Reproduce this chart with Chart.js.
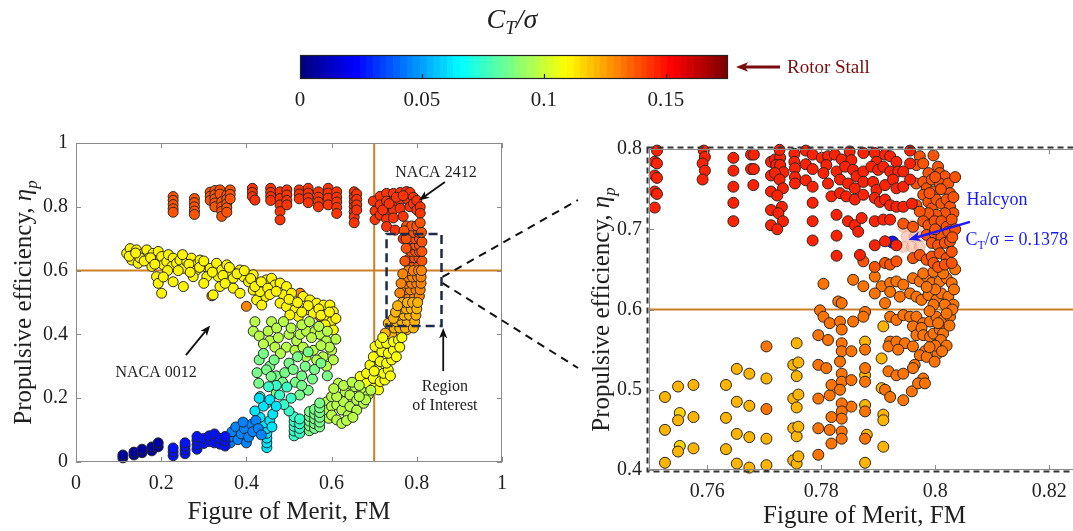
<!DOCTYPE html>
<html>
<head>
<meta charset="utf-8">
<script src="https://cdn.jsdelivr.net/npm/chart.js@4.4.1/dist/chart.umd.min.js"></script>
<style>
  html, body { margin: 0; padding: 0; background: #fff; overflow: hidden; width: 1073px; height: 531px; }
  canvas { position: absolute; }
  #cbar  { left: 250px; top: 0; }
  #left  { left: 0; top: 120px; }
  #right { left: 560px; top: 120px; }
</style>
</head>
<body>
<canvas id="cbar" width="650" height="130"></canvas>
<canvas id="left" width="600" height="411"></canvas>
<canvas id="right" width="530" height="411"></canvas>
<script>
// ---------- colour scale (C_T / sigma) ----------
const CMAX = 0.1755;
const cbarTicks = [0, 0.05, 0.1, 0.15];
const cbarLabels = ['0', '0.05', '0.1', '0.15'];

// ---------- left panel: full sweep (FM, eta_p), grouped by C_T/sigma ----------
const leftXTicks = [0, 0.2, 0.4, 0.6, 0.8, 1];
const leftXLabels = ['0', '0.2', '0.4', '0.6', '0.8', '1'];
const leftYTicks = [0, 0.2, 0.4, 0.6, 0.8, 1];
const leftYLabels = ['0', '0.2', '0.4', '0.6', '0.8', '1'];

const leftNavy = [[0.110,0.013],[0.110,0.022],[0.136,0.022],[0.136,0.031],[0.155,0.029],[0.155,0.040],[0.178,0.035],[0.178,0.047],[0.193,0.048],[0.193,0.060]];
const leftBlue = [[0.228,0.020],[0.228,0.032],[0.228,0.044],[0.256,0.026],[0.256,0.038],[0.256,0.050],[0.256,0.060],[0.284,0.040],[0.284,0.054],[0.284,0.068],[0.284,0.080],[0.300,0.058],[0.300,0.074],[0.313,0.064],[0.313,0.082],[0.325,0.060],[0.325,0.088],[0.338,0.056],[0.338,0.074],[0.350,0.050],[0.350,0.066],[0.350,0.080]];
const leftSky = [[0.362,0.060],[0.362,0.078],[0.366,0.095],[0.375,0.110],[0.380,0.070],[0.388,0.088],[0.395,0.105],[0.400,0.060],[0.405,0.078],[0.412,0.118],[0.415,0.095],[0.422,0.130],[0.428,0.105],[0.392,0.125],[0.435,0.085]];
const leftCyan = [[0.448,0.045],[0.448,0.060],[0.448,0.075],[0.448,0.090],[0.448,0.105],[0.440,0.122],[0.455,0.130],[0.432,0.140],[0.462,0.150],[0.420,0.160],[0.440,0.175],[0.455,0.195],[0.470,0.175],[0.430,0.200],[0.460,0.110]];
const leftTeal = [[0.512,0.082],[0.512,0.097],[0.512,0.112],[0.512,0.127],[0.512,0.142],[0.525,0.090],[0.525,0.105],[0.525,0.120],[0.525,0.135],[0.500,0.160],[0.488,0.180],[0.478,0.210],[0.505,0.200],[0.470,0.240],[0.495,0.235],[0.447,0.184],[0.432,0.205],[0.452,0.236]];
const leftGreen = [[0.548,0.098],[0.548,0.113],[0.548,0.128],[0.548,0.143],[0.548,0.158],[0.560,0.105],[0.560,0.120],[0.560,0.135],[0.560,0.150],[0.560,0.165],[0.572,0.110],[0.572,0.125],[0.572,0.140],[0.572,0.155],[0.572,0.170],[0.572,0.185],[0.470,0.270],[0.490,0.280],[0.515,0.250],[0.530,0.270],[0.545,0.225],[0.455,0.300],[0.500,0.310],[0.520,0.330],[0.538,0.300],[0.545,0.345],[0.429,0.247],[0.447,0.289],[0.458,0.268],[0.430,0.320],[0.525,0.210],[0.555,0.260],
  [0.440,0.340],[0.425,0.280],[0.465,0.320],[0.510,0.290],[0.530,0.240],[0.560,0.290],[0.575,0.310],[0.590,0.270],[0.485,0.250],[0.470,0.215]];
const leftLime = [[0.420,0.440],[0.416,0.410],[0.451,0.410],[0.459,0.440],[0.471,0.420],[0.487,0.440],[0.455,0.380],[0.467,0.360],[0.494,0.360],[0.514,0.350],[0.518,0.380],[0.526,0.400],[0.541,0.410],[0.561,0.410],[0.573,0.400],[0.588,0.380],[0.553,0.390],[0.533,0.360],[0.557,0.350],[0.580,0.330],[0.600,0.350],[0.604,0.320],[0.588,0.300],[0.565,0.320],
  [0.430,0.395],[0.440,0.370],[0.475,0.390],[0.500,0.400],[0.505,0.420],[0.530,0.430],[0.548,0.440],[0.570,0.425],[0.590,0.410],[0.610,0.385],[0.595,0.360],[0.575,0.365],[0.540,0.330],[0.480,0.340],
  [0.589,0.189],[0.589,0.163],[0.593,0.137],[0.600,0.205],[0.600,0.174],[0.600,0.147],[0.612,0.179],[0.612,0.132],[0.616,0.247],[0.624,0.163],[0.624,0.121],[0.628,0.189],[0.632,0.220],[0.639,0.147],[0.643,0.210],[0.643,0.174],[0.659,0.163],[0.659,0.194],[0.655,0.236],[0.675,0.184],[0.671,0.220],[0.686,0.210],[0.612,0.205],[0.628,0.240],
  [0.648,0.250],[0.665,0.240],[0.680,0.195],[0.692,0.225],[0.605,0.230],[0.635,0.130],[0.650,0.140],[0.665,0.205]];
const leftYellow = [[0.667,0.268],[0.682,0.247],[0.698,0.231],[0.710,0.226],[0.682,0.278],[0.698,0.262],[0.714,0.252],[0.725,0.257],[0.690,0.304],[0.706,0.289],[0.722,0.278],[0.733,0.289],[0.698,0.330],[0.714,0.315],[0.729,0.310],[0.741,0.320],[0.702,0.362],[0.718,0.346],[0.733,0.341],[0.745,0.351],[0.714,0.372],[0.729,0.372],[0.745,0.377],[0.757,0.382],
  [0.738,0.270],[0.752,0.330],[0.760,0.360],[0.700,0.285],[0.720,0.390],[0.765,0.390]];
const leftGold = [[0.119,0.654],[0.127,0.669],[0.135,0.650],[0.142,0.665],[0.131,0.633],[0.146,0.623],[0.158,0.654],[0.166,0.665],[0.170,0.639],[0.181,0.654],[0.189,0.628],[0.178,0.613],[0.193,0.660],[0.201,0.644],[0.205,0.618],[0.213,0.628],[0.217,0.650],[0.228,0.639],[0.225,0.613],[0.236,0.623],[0.244,0.633],[0.252,0.607],[0.260,0.628],[0.271,0.639],[0.279,0.618],[0.283,0.602],[0.291,0.633],[0.303,0.613],[0.307,0.581],[0.315,0.607],[0.330,0.623],[0.334,0.581],[0.342,0.602],[0.354,0.618],[0.362,0.597],[0.369,0.576],[0.385,0.602],[0.393,0.581],[0.405,0.565],[0.416,0.587],[0.428,0.560],[0.440,0.550],[0.447,0.571],[0.459,0.576],[0.467,0.555],[0.189,0.581],[0.193,0.560],[0.201,0.529],[0.228,0.565],[0.252,0.550],[0.275,0.581],[0.322,0.524],[0.338,0.550],[0.369,0.545],[0.385,0.529],[0.416,0.539],[0.444,0.518],[0.424,0.508],[0.436,0.492],[0.432,0.534],
  [0.125,0.645],[0.150,0.640],[0.160,0.630],[0.175,0.640],[0.140,0.655],[0.185,0.620],
  [0.250,0.650],[0.265,0.620],[0.290,0.610],[0.300,0.630],[0.320,0.595],[0.345,0.585],[0.360,0.610],[0.378,0.590],[0.395,0.600],[0.410,0.575],[0.420,0.550],[0.435,0.565],[0.450,0.545],[0.455,0.525],[0.300,0.560],[0.268,0.595],[0.240,0.600],[0.215,0.600],[0.205,0.580],[0.350,0.560],
  [0.479,0.561],[0.494,0.550],[0.487,0.524],[0.506,0.529],[0.533,0.519],[0.549,0.508],[0.565,0.498],[0.581,0.492],[0.596,0.492],[0.479,0.498],[0.494,0.487],[0.514,0.477],[0.541,0.477],[0.557,0.466],[0.588,0.456],[0.604,0.471],[0.600,0.440],[0.585,0.430],[0.604,0.414],[0.522,0.456],[0.502,0.461],
  [0.470,0.535],[0.500,0.510],[0.520,0.500],[0.545,0.490],[0.570,0.480],[0.575,0.460],[0.530,0.470],[0.610,0.450],[0.595,0.470]];
const leftAmber = [[0.733,0.435],[0.749,0.430],[0.764,0.424],[0.780,0.435],[0.776,0.414],[0.761,0.404],[0.741,0.398],[0.726,0.404],[0.747,0.420],[0.760,0.420],[0.773,0.420],[0.752,0.440],[0.765,0.440],[0.778,0.440],[0.758,0.460],[0.770,0.460],[0.783,0.460],[0.762,0.480],[0.775,0.480],[0.787,0.480],[0.766,0.500],[0.778,0.500],[0.790,0.500],
  [0.792,0.420],[0.795,0.440],[0.798,0.460],[0.800,0.480],[0.802,0.500],[0.745,0.450],[0.750,0.470],[0.755,0.490]];
const leftOrange = [[0.770,0.520],[0.782,0.520],[0.795,0.520],[0.772,0.540],[0.785,0.540],[0.798,0.540],[0.775,0.560],[0.788,0.560],[0.800,0.560],[0.777,0.580],[0.790,0.580],[0.802,0.580],[0.780,0.600],[0.792,0.600],[0.804,0.600],[0.400,0.488],[0.526,0.529],[0.573,0.456],[0.319,0.521],
  [0.806,0.520],[0.808,0.540],[0.810,0.560],[0.810,0.580],[0.811,0.600],[0.760,0.530],[0.763,0.560],[0.767,0.590]];
const leftVermilion = [[0.782,0.620],[0.794,0.620],[0.805,0.620],[0.784,0.640],[0.795,0.640],[0.805,0.640],[0.786,0.660],[0.797,0.660],[0.806,0.660],[0.786,0.680],[0.797,0.680],[0.806,0.680],[0.785,0.700],[0.796,0.700],[0.806,0.700],[0.780,0.720],[0.792,0.720],[0.804,0.720],[0.776,0.740],[0.788,0.740],[0.800,0.740],
  [0.812,0.630],[0.812,0.660],[0.812,0.690],[0.811,0.720],[0.772,0.630],[0.775,0.670],[0.775,0.700],[0.770,0.725],[0.808,0.750]];
const leftStallCols = [[0.228,0.832],[0.228,0.820],[0.228,0.807],[0.228,0.794],[0.228,0.783],[0.278,0.826],[0.278,0.813],[0.278,0.800],[0.278,0.787],[0.278,0.776],[0.315,0.846],[0.315,0.833],[0.315,0.820],[0.326,0.851],[0.326,0.838],[0.326,0.825],[0.326,0.812],[0.326,0.800],[0.338,0.853],[0.338,0.840],[0.342,0.816],[0.342,0.800],[0.342,0.786],[0.342,0.770],[0.354,0.837],[0.354,0.824],[0.354,0.810],[0.354,0.797],[0.354,0.783],[0.362,0.853],[0.362,0.839],[0.362,0.825]];
const leftStall = [[0.414,0.858],[0.414,0.845],[0.414,0.832],[0.420,0.821],[0.457,0.858],[0.457,0.845],[0.457,0.832],[0.457,0.820],[0.479,0.847],[0.479,0.826],[0.479,0.806],[0.479,0.785],[0.479,0.759],[0.495,0.853],[0.495,0.837],[0.495,0.820],[0.495,0.806],[0.524,0.853],[0.524,0.840],[0.524,0.825],[0.545,0.858],[0.545,0.843],[0.545,0.828],[0.545,0.813],[0.569,0.847],[0.569,0.830],[0.569,0.815],[0.569,0.800],[0.592,0.858],[0.592,0.843],[0.592,0.827],[0.592,0.806],[0.612,0.847],[0.612,0.830],[0.612,0.815],[0.612,0.798],[0.612,0.779],[0.653,0.847],[0.653,0.831],[0.653,0.815],[0.653,0.800],[0.653,0.784],[0.653,0.768],[0.653,0.750],[0.659,0.840],[0.659,0.823],[0.659,0.806],[0.659,0.790],
  [0.698,0.818],[0.702,0.787],[0.702,0.760],[0.714,0.833],[0.714,0.806],[0.714,0.774],[0.729,0.842],[0.729,0.818],[0.729,0.790],[0.729,0.762],[0.729,0.738],[0.745,0.842],[0.745,0.818],[0.745,0.790],[0.745,0.765],[0.749,0.727],[0.761,0.845],[0.761,0.820],[0.761,0.795],[0.768,0.770],[0.768,0.700],[0.776,0.848],[0.776,0.825],[0.784,0.800],[0.784,0.845],[0.792,0.830],[0.792,0.810],[0.800,0.820],[0.800,0.790],[0.808,0.800],[0.808,0.780],[0.720,0.790],[0.735,0.810],[0.752,0.830],[0.768,0.835]];

const leftSeries = [
  [leftNavy, 0.007], [leftBlue, 0.025], [leftSky, 0.045], [leftCyan, 0.061],
  [leftTeal, 0.075], [leftGreen, 0.086], [leftLime, 0.096], [leftGold, 0.110],
  [leftYellow, 0.107], [leftAmber, 0.122], [leftOrange, 0.131], [leftVermilion, 0.138],
  [leftStallCols, 0.139], [leftStall, 0.145]
];

// ---------- right panel: zoom on the high-efficiency corner ----------
const rightXTicks = [0.76, 0.78, 0.8, 0.82];
const rightXLabels = ['0.76', '0.78', '0.8', '0.82'];
const rightYTicks = [0.4, 0.5, 0.6, 0.7, 0.8];
const rightYLabels = ['0.4', '0.5', '0.6', '0.7', '0.8'];

const rightRed = [[0.7512,0.798],[0.7508,0.784],[0.7512,0.782],[0.7508,0.767],[0.7512,0.764],[0.7508,0.747],[0.7512,0.744],[0.7508,0.727],
  [0.7594,0.798],[0.7596,0.790],[0.7592,0.782],[0.7596,0.773],[0.7592,0.762],
  [0.7646,0.789],[0.7646,0.773],[0.7646,0.753],[0.7646,0.733],[0.7646,0.710],
  [0.7677,0.793],[0.7682,0.793],[0.7677,0.775],[0.7682,0.775],[0.7681,0.755],
  [0.7712,0.784],[0.7719,0.787],[0.7728,0.789],[0.7727,0.799],[0.7721,0.780],[0.7728,0.780],[0.7734,0.771],[0.7712,0.767],[0.7719,0.770],[0.7727,0.762],[0.7733,0.751],[0.7712,0.747],[0.7723,0.742],[0.7731,0.728],[0.7712,0.724],[0.7725,0.720],[0.7733,0.710],[0.7712,0.705],[0.7723,0.700],
  [0.7753,0.794],[0.7753,0.784],[0.7754,0.776],[0.7754,0.765],[0.7754,0.757],[0.7773,0.798],[0.7773,0.781],[0.7773,0.761],[0.7785,0.686],[0.7785,0.710],[0.7785,0.733],[0.7785,0.753],[0.7785,0.775],[0.7785,0.793],
  [0.7801,0.789],[0.7812,0.791],[0.7824,0.793],[0.7836,0.787],[0.7850,0.797],[0.7853,0.786],[0.7874,0.795],[0.7894,0.795],[0.7897,0.784],[0.7912,0.793],[0.7921,0.791],[0.7932,0.784],[0.7956,0.798],
  [0.7809,0.780],[0.7804,0.770],[0.7827,0.772],[0.7842,0.778],[0.7856,0.774],[0.7862,0.766],[0.7874,0.772],[0.7888,0.778],[0.7900,0.774],[0.7909,0.778],[0.7921,0.772],[0.7935,0.772],[0.7944,0.772],[0.7956,0.782],
  [0.7812,0.757],[0.7833,0.762],[0.7847,0.757],[0.7859,0.751],[0.7874,0.759],[0.7891,0.759],[0.7897,0.749],[0.7912,0.755],[0.7926,0.762],[0.7932,0.751],[0.7944,0.753],[0.7956,0.762],
  [0.7818,0.741],[0.7833,0.745],[0.7844,0.741],[0.7859,0.737],[0.7874,0.743],[0.7894,0.739],[0.7903,0.734],[0.7912,0.737],[0.7921,0.730],[0.7932,0.728],[0.7944,0.728],[0.7959,0.732],
  [0.7827,0.718],[0.7847,0.710],[0.7859,0.705],[0.7871,0.714],[0.7894,0.710],[0.7909,0.712],[0.7921,0.712],
  [0.7827,0.692],[0.7865,0.697],[0.7894,0.680],[0.7912,0.685],[0.7932,0.680],[0.7827,0.667],[0.7868,0.668]];
const rightVermilion = [[0.7973,0.791],[0.7997,0.792],
  [0.7967,0.780],[0.7979,0.782],[0.7988,0.770],[0.8005,0.778],[0.8008,0.770],[0.8017,0.766],
  [0.7967,0.757],[0.7979,0.759],[0.7985,0.751],[0.7994,0.762],[0.7997,0.747],[0.8008,0.757],[0.8017,0.751],[0.8023,0.757],[0.8026,0.745],
  [0.7967,0.730],[0.7979,0.743],[0.7988,0.734],[0.7994,0.726],[0.8002,0.737],[0.8011,0.732],[0.8020,0.737],[0.8026,0.728],[0.8032,0.720],[0.8017,0.720],[0.8002,0.718],[0.7988,0.720],[0.7973,0.722],
  [0.7944,0.707],[0.7961,0.703],[0.7979,0.710],[0.7988,0.705],[0.7999,0.710],[0.8011,0.710],[0.8020,0.703],[0.8029,0.712],
  [0.7985,0.693],[0.7999,0.695],[0.8011,0.691],[0.8023,0.697],[0.7994,0.683],[0.8005,0.680],[0.8017,0.683],[0.8026,0.685],
  [0.7874,0.660],[0.7894,0.653],[0.7912,0.658],[0.7921,0.656],[0.7932,0.660],[0.7961,0.664],[0.7973,0.668],[0.7985,0.662],[0.7994,0.666],[0.8008,0.670],[0.8020,0.664],[0.8029,0.672],[0.7997,0.658],[0.8005,0.653],[0.8017,0.656],[0.8029,0.658],
  [0.8032,0.740],[0.8035,0.700],[0.8030,0.690],[0.8000,0.700],[0.7990,0.745],[0.8010,0.750],[0.8035,0.765],[0.8000,0.765]];
const rightOrange = [[0.7804,0.632],[0.7856,0.637],[0.7874,0.629],[0.7894,0.641],[0.7906,0.629],[0.7921,0.633],[0.7932,0.635],[0.7944,0.631],[0.7961,0.639],[0.7973,0.635],[0.7985,0.641],[0.7994,0.633],[0.8008,0.635],[0.8020,0.639],[0.8029,0.633],[0.7979,0.645],[0.7997,0.647],[0.8014,0.645],
  [0.7798,0.599],[0.7830,0.610],[0.7836,0.608],[0.7877,0.597],[0.7894,0.620],[0.7912,0.608],[0.7921,0.622],[0.7938,0.616],[0.7956,0.620],[0.7967,0.616],[0.7976,0.612],[0.7988,0.618],[0.8002,0.612],[0.8011,0.620],[0.8023,0.616],[0.8032,0.606],[0.8017,0.606],[0.7997,0.606],
  [0.7804,0.591],[0.7815,0.583],[0.7833,0.585],[0.7856,0.585],[0.7874,0.591],[0.7921,0.591],[0.7932,0.587],[0.7944,0.593],[0.7956,0.591],[0.7967,0.591],[0.7979,0.583],[0.7991,0.585],[0.8002,0.591],[0.8014,0.587],[0.8026,0.591],[0.7961,0.579],
  [0.7795,0.568],[0.7812,0.562],[0.7795,0.531],[0.7809,0.527],[0.7795,0.489],[0.7815,0.493],[0.7795,0.452],[0.7815,0.450],[0.7795,0.419],[0.7818,0.433],[0.7836,0.575],[0.7836,0.558],[0.7836,0.548],[0.7853,0.548],[0.7833,0.535],[0.7836,0.520],[0.7836,0.510],[0.7818,0.506],[0.7833,0.500],[0.7853,0.512],[0.7853,0.479],[0.7836,0.483],[0.7836,0.473],[0.7836,0.464],[0.7818,0.466],[0.7836,0.448],[0.7836,0.439],
  [0.7877,0.550],[0.7877,0.527],[0.7877,0.510],[0.7877,0.473],[0.7877,0.439],[0.7912,0.500],[0.7921,0.560],[0.7918,0.554],[0.7932,0.560],[0.7947,0.558],[0.7935,0.550],[0.7918,0.523],[0.7932,0.518],[0.7944,0.520],[0.7921,0.491],[0.7944,0.487],[0.7959,0.498],[0.7961,0.554],[0.7967,0.568],[0.7976,0.577],[0.7979,0.568],[0.7982,0.548],[0.7973,0.543],[0.7985,0.541],[0.7964,0.531],[0.7961,0.527],[0.7979,0.514],[0.7970,0.508],[0.7982,0.508],[0.7991,0.566],[0.7997,0.570],[0.8008,0.575],[0.8005,0.583],[0.8014,0.570],[0.8004,0.545],[0.7999,0.535],
  [0.7704,0.554],[0.7704,0.476],
  [0.8035,0.650],[0.8033,0.625],[0.8030,0.600],[0.8000,0.625],[0.7985,0.628],[0.7990,0.598],[0.8020,0.595],[0.8025,0.580],[0.8010,0.562],[0.8020,0.555],[0.8000,0.555],[0.7990,0.553],[0.8012,0.548]];
const rightAmber = [[0.7877,0.560],[0.7877,0.518],[0.7877,0.481],[0.7880,0.444],[0.7877,0.409],[0.7909,0.579],[0.7906,0.539],[0.7906,0.502],[0.7909,0.469],[0.7909,0.462],[0.7909,0.429],
  [0.7526,0.491],[0.7549,0.504],[0.7576,0.506],[0.7526,0.450],[0.7549,0.462],[0.7576,0.466],[0.7526,0.409],[0.7549,0.423],[0.7576,0.427],[0.7633,0.506],[0.7633,0.465],[0.7633,0.426],[0.7652,0.526],[0.7652,0.485],[0.7652,0.445],[0.7652,0.408],[0.7674,0.520],[0.7674,0.480],[0.7674,0.441],[0.7674,0.403],[0.7704,0.514],[0.7704,0.439],[0.7704,0.406],[0.7751,0.531],[0.7751,0.489],[0.7751,0.452],[0.7751,0.412],[0.7757,0.558],[0.7757,0.517],[0.7757,0.478],[0.7757,0.442],[0.7757,0.408],[0.7760,0.534],[0.7760,0.494],[0.7760,0.454],[0.7760,0.417]];
const rightYellow = [[0.7552,0.471],[0.7552,0.430]];
// neighbouring design points around Halcyon, drawn faded
const halcyonNeighbours = [[0.7944,0.703],[0.7959,0.705],[0.7973,0.703],[0.7950,0.691],[0.7964,0.691],[0.7976,0.691],[0.7944,0.678],[0.7959,0.678],[0.7973,0.678]];
const halcyonPoint = [[0.7925,0.684]];
const halcyonCt = 0.1378;

const rightSeries = [
  [rightRed, 0.146], [rightVermilion, 0.139], [rightOrange, 0.132],
  [rightAmber, 0.122], [rightYellow, 0.116]
];

// ---------- helpers ----------
const SERIF = '"Liberation Serif", "Times New Roman", serif';
const REF_LINE = 'rgb(204,128,38)';

function jet(c) {
  let t = Math.min(Math.max(c / CMAX, 0), 1);
  t = Math.min(63, Math.floor(t * 64)) / 63;
  const f = v => Math.round(255 * Math.min(Math.max(v, 0), 1));
  return `rgb(${f(1.5 - Math.abs(4 * t - 3))},${f(1.5 - Math.abs(4 * t - 2))},${f(1.5 - Math.abs(4 * t - 1))})`;
}

function series(points, color, radius, border) {
  return {
    data: points.map(p => ({ x: p[0], y: p[1] })),
    backgroundColor: color,
    borderColor: border === undefined ? '#262626' : border,
    borderWidth: border === null ? 0 : 1,
    pointRadius: radius, pointHoverRadius: radius,
    clip: false
  };
}

function axis(min, max, ticks, labels, size, pad, fit, isX, show) {
  return {
    type: 'linear', min, max, display: show !== false,
    afterBuildTicks: s => { s.ticks = ticks.map(v => ({ value: v })); },
    afterFit: s => { if (isX) s.height = fit; else s.width = fit; },
    grid: { display: false, drawTicks: false },
    border: { display: false },
    ticks: {
      font: { family: SERIF, size }, color: '#1e1e1e', padding: pad,
      maxRotation: 0, autoSkip: false,
      callback: (v, i) => labels[i]
    }
  };
}

// text made of runs with their own font and baseline shift
function rich(ctx, parts, x, y, opt) {
  ctx.save();
  ctx.translate(x, y);
  if (opt.rotate) ctx.rotate(-Math.PI / 2);
  ctx.fillStyle = opt.color || '#1e1e1e';
  ctx.textBaseline = 'alphabetic';
  ctx.textAlign = 'left';
  let w = 0;
  for (const p of parts) { ctx.font = p.f; w += ctx.measureText(p.t).width; }
  let cx = opt.align === 'left' ? 0 : -w / 2;
  for (const p of parts) {
    ctx.font = p.f;
    ctx.fillText(p.t, cx, (opt.base || 0) + (p.dy || 0));
    cx += ctx.measureText(p.t).width;
  }
  ctx.restore();
}

function arrow(ctx, x1, y1, x2, y2, color, width, head) {
  ctx.save();
  ctx.strokeStyle = color; ctx.fillStyle = color; ctx.lineWidth = width;
  ctx.setLineDash([]);
  const a = Math.atan2(y2 - y1, x2 - x1);
  const bx = x2 - head * 0.7 * Math.cos(a), by = y2 - head * 0.7 * Math.sin(a);
  ctx.beginPath(); ctx.moveTo(x1, y1); ctx.lineTo(bx, by); ctx.stroke();
  ctx.beginPath();
  ctx.moveTo(x2, y2);
  ctx.lineTo(x2 - head * Math.cos(a - 0.38), y2 - head * Math.sin(a - 0.38));
  ctx.lineTo(bx, by);
  ctx.lineTo(x2 - head * Math.cos(a + 0.38), y2 - head * Math.sin(a + 0.38));
  ctx.closePath(); ctx.fill();
  ctx.restore();
}

// axes box with inward tick marks on all four sides
function boxAndTicks(chart, xt, yt) {
  const { ctx, chartArea: a, scales: { x, y } } = chart;
  ctx.save();
  ctx.strokeStyle = '#8a8a8a'; ctx.lineWidth = 1; ctx.setLineDash([]);
  ctx.strokeRect(a.left + 0.5, a.top + 0.5, a.width - 1, a.height - 1);
  ctx.beginPath();
  for (const v of xt) {
    const px = Math.round(x.getPixelForValue(v)) + 0.5;
    ctx.moveTo(px, a.bottom); ctx.lineTo(px, a.bottom - 5);
    ctx.moveTo(px, a.top); ctx.lineTo(px, a.top + 5);
  }
  for (const v of yt) {
    const py = Math.round(y.getPixelForValue(v)) + 0.5;
    ctx.moveTo(a.left, py); ctx.lineTo(a.left + 5, py);
    ctx.moveTo(a.right, py); ctx.lineTo(a.right - 5, py);
  }
  ctx.stroke();
  ctx.restore();
}

const etaTitle = [
  { t: 'Propulsive efficiency, ', f: `25px ${SERIF}` },
  { t: 'η', f: `italic 25px ${SERIF}` },
  { t: 'p', f: `italic 17px ${SERIF}`, dy: 6 }
];
const fmTitle = [{ t: 'Figure of Merit, FM', f: `25px ${SERIF}` }];

const common = {
  responsive: false, animation: false, events: [], devicePixelRatio: 1,
  plugins: { legend: { display: false }, tooltip: { enabled: false } }
};

// ---------- colour bar ----------
new Chart(document.getElementById('cbar'), {
  type: 'scatter',
  data: { datasets: [] },
  options: {
    ...common,
    layout: { padding: { top: 55, right: 172, bottom: 0, left: 50 } },
    scales: {
      x: axis(0, CMAX, cbarTicks, cbarLabels, 21, 9, 51, true),
      y: axis(0, 1, [], [], 10, 0, 0, false, false)
    }
  },
  plugins: [{
    id: 'colourbar',
    afterDraw(chart) {
      const { ctx, chartArea: a, scales: { x } } = chart;
      const n = 64;
      for (let i = 0; i < n; i++) {
        const x0 = x.getPixelForValue(i * CMAX / n), x1 = x.getPixelForValue((i + 1) * CMAX / n);
        ctx.fillStyle = jet((i + 0.5) * CMAX / n);
        ctx.fillRect(Math.floor(x0), a.top, Math.ceil(x1) - Math.floor(x0), a.height);
      }
      ctx.save();
      ctx.strokeStyle = '#222'; ctx.lineWidth = 1.2;
      ctx.strokeRect(a.left + 0.5, a.top + 0.5, a.width - 1, a.height - 1);
      ctx.beginPath();
      for (const v of cbarTicks.slice(1)) {
        const px = Math.round(x.getPixelForValue(v)) + 0.5;
        ctx.moveTo(px, a.bottom); ctx.lineTo(px, a.bottom - 5);
      }
      ctx.stroke();
      ctx.restore();
      rich(ctx, [
        { t: 'C', f: `italic 28px ${SERIF}` },
        { t: 'T', f: `italic 19px ${SERIF}`, dy: 6 },
        { t: '/σ', f: `italic 28px ${SERIF}` }
      ], (a.left + a.right) / 2 - 2, 28, { align: 'center' });
      const my = (a.top + a.bottom) / 2;
      arrow(ctx, a.right + 52, my, a.right + 8, my, '#7a0c0c', 3, 13);
      rich(ctx, [{ t: 'Rotor Stall', f: `19px ${SERIF}` }], a.right + 59, my + 6, { align: 'left', color: '#7a0c0c' });
    }
  }]
});

// ---------- left panel ----------
new Chart(document.getElementById('left'), {
  type: 'scatter',
  data: { datasets: leftSeries.map(([pts, c]) => series(pts, jet(c), 5)) },
  options: {
    ...common,
    layout: { padding: { top: 23, right: 98, bottom: 0, left: 0 } },
    scales: {
      x: axis(0, 1, leftXTicks, leftXLabels, 20, 10, 69, true),
      y: axis(0, 1, leftYTicks, leftYLabels, 20, 8, 76, false)
    }
  },
  plugins: [{
    id: 'leftDecor',
    beforeDatasetsDraw(chart) {
      const { ctx, chartArea: a, scales: { x, y } } = chart;
      ctx.save();
      ctx.strokeStyle = REF_LINE; ctx.lineWidth = 2;
      ctx.beginPath();
      const px = x.getPixelForValue(0.7), py = y.getPixelForValue(0.6);
      ctx.moveTo(px, a.top); ctx.lineTo(px, a.bottom);
      ctx.moveTo(a.left, py); ctx.lineTo(a.right, py);
      ctx.stroke();
      ctx.restore();
    },
    afterDatasetsDraw(chart) {
      const { ctx, chartArea: a, scales: { x, y } } = chart;
      boxAndTicks(chart, leftXTicks, leftYTicks);
      // region of interest
      const rx0 = x.getPixelForValue(0.729), rx1 = x.getPixelForValue(0.858);
      const ry0 = y.getPixelForValue(0.715), ry1 = y.getPixelForValue(0.426);
      ctx.save();
      ctx.strokeStyle = '#1d2b48'; ctx.lineWidth = 2.5; ctx.setLineDash([9, 5]);
      ctx.strokeRect(rx0, ry0, rx1 - rx0, ry1 - ry0);
      // leader lines towards the zoomed panel
      ctx.strokeStyle = '#111'; ctx.lineWidth = 2; ctx.setLineDash([8, 6]);
      ctx.beginPath();
      ctx.moveTo(rx1 + 1, y.getPixelForValue(0.58)); ctx.lineTo(578, 80);
      ctx.moveTo(rx1 + 1, y.getPixelForValue(0.561)); ctx.lineTo(578, 248);
      ctx.stroke();
      ctx.restore();
      // labels
      const lab = `16px ${SERIF}`;
      rich(ctx, [{ t: 'NACA 2412', f: lab }], x.getPixelForValue(0.845), y.getPixelForValue(0.913) + 6, { align: 'center' });
      arrow(ctx, x.getPixelForValue(0.866), y.getPixelForValue(0.878), x.getPixelForValue(0.805), y.getPixelForValue(0.82), '#111', 1.8, 11);
      rich(ctx, [{ t: 'NACA 0012', f: lab }], x.getPixelForValue(0.188), y.getPixelForValue(0.285) + 6, { align: 'center' });
      arrow(ctx, x.getPixelForValue(0.258), y.getPixelForValue(0.335), x.getPixelForValue(0.315), y.getPixelForValue(0.428), '#111', 1.8, 11);
      rich(ctx, [{ t: 'Region', f: lab }], x.getPixelForValue(0.866), y.getPixelForValue(0.241) + 6, { align: 'center' });
      rich(ctx, [{ t: 'of Interest', f: lab }], x.getPixelForValue(0.866), y.getPixelForValue(0.182) + 6, { align: 'center' });
      arrow(ctx, x.getPixelForValue(0.862), y.getPixelForValue(0.285), x.getPixelForValue(0.862), y.getPixelForValue(0.42), '#111', 1.8, 11);
      // axis titles
      rich(ctx, fmTitle, (a.left + a.right) / 2, a.bottom + 49, { align: 'center', base: 8 });
      rich(ctx, etaTitle, 23, (a.top + a.bottom) / 2, { align: 'center', rotate: true, base: 8 });
    }
  }]
});

// ---------- right panel ----------
const rightSets = rightSeries.map(([pts, c]) => series(pts, jet(c), 5.5));
rightSets.push(series(halcyonNeighbours, 'rgba(247,170,140,0.55)', 5.5, 'rgba(200,120,90,0.35)'));
rightSets.push(series(halcyonPoint, 'rgb(20,20,255)', 6, '#0a0a60'));

new Chart(document.getElementById('right'), {
  type: 'scatter',
  data: { datasets: rightSets },
  options: {
    ...common,
    layout: { padding: { top: 29, right: 10, bottom: 0, left: 0 } },
    scales: {
      x: axis(0.7498, 0.8254, rightXTicks, rightXLabels, 20, 10, 61, true),
      y: axis(0.4, 0.8, rightYTicks, rightYLabels, 20, 7, 89, false)
    }
  },
  plugins: [{
    id: 'rightDecor',
    beforeDatasetsDraw(chart) {
      const { ctx, chartArea: a, scales: { y } } = chart;
      ctx.save();
      ctx.strokeStyle = REF_LINE; ctx.lineWidth = 2;
      const py = y.getPixelForValue(0.6);
      ctx.beginPath(); ctx.moveTo(a.left, py); ctx.lineTo(a.right, py); ctx.stroke();
      ctx.restore();
    },
    afterDatasetsDraw(chart) {
      const { ctx, chartArea: a, scales: { x, y } } = chart;
      boxAndTicks(chart, rightXTicks, rightYTicks);
      ctx.save();
      ctx.strokeStyle = '#333'; ctx.lineWidth = 2; ctx.setLineDash([6, 4]);
      ctx.strokeRect(a.left - 1.5, a.top - 1.5, a.width + 3, a.height + 3);
      ctx.restore();
      const blue = 'rgb(25,25,255)';
      rich(ctx, [{ t: 'Halcyon', f: `18px ${SERIF}` }], x.getPixelForValue(0.8055), y.getPixelForValue(0.7379) + 6, { align: 'left', color: blue });
      rich(ctx, [
        { t: 'C', f: `18px ${SERIF}` },
        { t: 'T', f: `12px ${SERIF}`, dy: 4 },
        { t: '/σ = ' + halcyonCt, f: `18px ${SERIF}` }
      ], x.getPixelForValue(0.8053), y.getPixelForValue(0.688) + 6, { align: 'left', color: blue });
      arrow(ctx, x.getPixelForValue(0.8061), y.getPixelForValue(0.7092), x.getPixelForValue(0.7953), y.getPixelForValue(0.6868), blue, 2.5, 13);
      rich(ctx, fmTitle, (a.left + a.right) / 2, a.bottom + 45, { align: 'center', base: 8 });
      rich(ctx, etaTitle, a.left - 48, (a.top + a.bottom) / 2, { align: 'center', rotate: true, base: 8 });
    }
  }]
});
</script>
</body>
</html>
